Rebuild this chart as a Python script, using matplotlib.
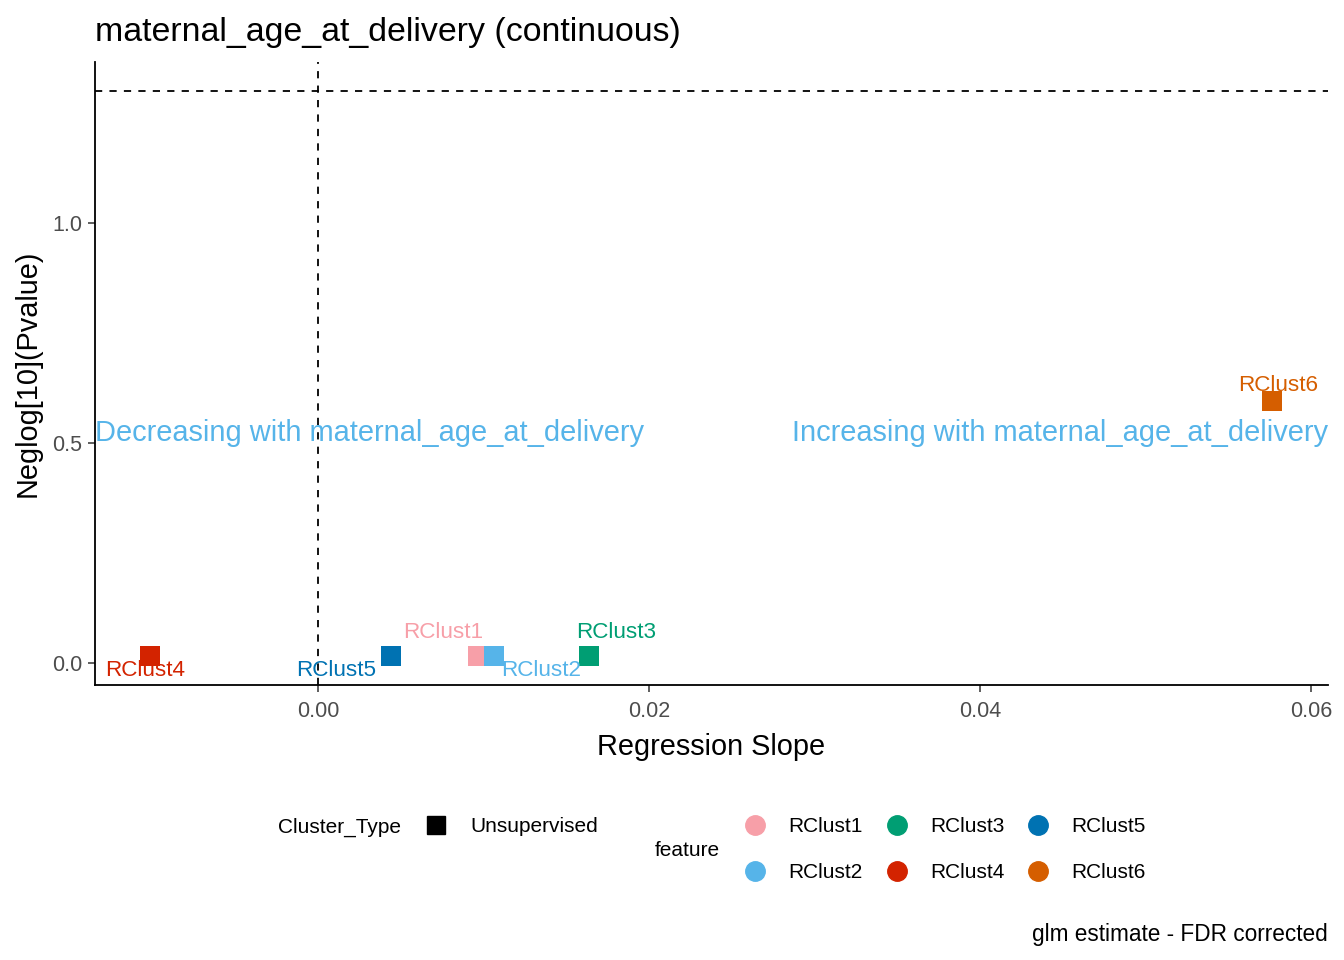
import matplotlib
matplotlib.use("Agg")
import matplotlib.pyplot as plt
from matplotlib.lines import Line2D
from matplotlib.transforms import offset_copy

plt.rcParams['font.family'] = ['Liberation Sans', 'DejaVu Sans']

features = ["RClust1", "RClust2", "RClust3", "RClust4", "RClust5", "RClust6"]
slopes = [0.00967, 0.01063, 0.01637, -0.01015, 0.00441, 0.05764]
neglogp = [0.016, 0.016, 0.016, 0.016, 0.016, 0.595]
colors = ["#F79FA8", "#56B4E9", "#009E73", "#D32300", "#0072B2", "#D55E00"]
cluster_types = ["Unsupervised"]
x_ticks = [0.00, 0.02, 0.04, 0.06]
x_ticklabels = ["0.00", "0.02", "0.04", "0.06"]
y_ticks = [0.0, 0.5, 1.0]
y_ticklabels = ["0.0", "0.5", "1.0"]
sig_threshold = 1.30103
title = "maternal_age_at_delivery (continuous)"
caption = "glm estimate - FDR corrected"
ann_y = 0.53
ann_color = "#56B4E9"

# label offsets in pixels (repel-like placement)
label_offsets = {"RClust1": (-35, 23), "RClust2": (47, -15), "RClust3": (27, 23),
                 "RClust4": (-5, -15), "RClust5": (-55, -15), "RClust6": (6, 16)}

W, H = 1344, 960
fig = plt.figure(figsize=(W / 100, H / 100), dpi=100)
ax = fig.add_axes([95 / W, 1 - 685 / H, (1328 - 95) / W, (685 - 62) / H])

xmin, xmax = -0.01347, 0.06103
ymin, ymax = -0.05, 1.366
ax.set_xlim(xmin, xmax)
ax.set_ylim(ymin, ymax)

ax.axhline(sig_threshold, color="black", linestyle=(0, (4, 4)), linewidth=1.3)
ax.axvline(0, color="black", linestyle=(0, (4, 4)), linewidth=1.3)

ax.scatter(slopes, neglogp, marker="s", s=200, c=colors, linewidths=0, zorder=3)
for f, x, y, c in zip(features, slopes, neglogp, colors):
    dx, dy = label_offsets[f]
    ax.annotate(f, (x, y), xytext=(dx, dy), textcoords="offset pixels",
                ha="center", va="center", color=c, fontsize=16.2, zorder=4)

shifted = offset_copy(ax.transData, fig=fig, x=0, y=-3, units="dots")
ax.text(xmin, ann_y, "Decreasing with maternal_age_at_delivery", ha="left", va="center",
        color=ann_color, fontsize=20.9, transform=shifted)
ax.text(xmax, ann_y, "Increasing with maternal_age_at_delivery", ha="right", va="center",
        color=ann_color, fontsize=20.9, transform=shifted)

for s in ["top", "right"]:
    ax.spines[s].set_visible(False)
for s in ["left", "bottom"]:
    ax.spines[s].set_linewidth(1.3)
ax.set_xticks(x_ticks)
ax.set_xticklabels(x_ticklabels)
ax.set_yticks(y_ticks)
ax.set_yticklabels(y_ticklabels)
ax.tick_params(axis="x", pad=6.5)
ax.tick_params(axis="both", direction="out", length=5, width=1.1, color="#333333",
               labelsize=15.5, labelcolor="#4D4D4D")
ax.tick_params(axis="y", pad=4)

ax.set_xlabel("Regression Slope", fontsize=20.8, labelpad=8)
ax.set_ylabel("Neglog[10](Pvalue)", fontsize=20.8, labelpad=8)
fig.text(95 / W, 1 - 33 / H, title, fontsize=24.4, ha="left", va="center")
fig.text(1328 / W, 1 - 935 / H, caption, fontsize=16.3, ha="right", va="center")

# Legends (manual layout, ggplot-like bottom legend)
def fx(p):
    return p / W

def fy(p):
    return 1 - p / H

fig.text(fx(278), fy(827), "Cluster_Type", fontsize=15, ha="left", va="center")
fig.add_artist(Line2D([fx(436)], [fy(825)], marker="s", markersize=13, color="black",
                      linestyle="none", transform=fig.transFigure))
fig.text(fx(470), fy(827), cluster_types[0], fontsize=15, ha="left", va="center")

fig.text(fx(655), fy(851), "feature", fontsize=15, ha="left", va="center")
col_x = [755, 897, 1038]
row_y = [825, 871]
for i, (f, c) in enumerate(zip(features, colors)):
    cx = col_x[i // 2]
    cy = row_y[i % 2]
    fig.add_artist(Line2D([fx(cx)], [fy(cy)], marker="o", markersize=14, color=c,
                          linestyle="none", transform=fig.transFigure))
    fig.text(fx(cx + 33), fy(cy + 2), f, fontsize=15, ha="left", va="center")

fig.savefig("out.png", dpi=100)
